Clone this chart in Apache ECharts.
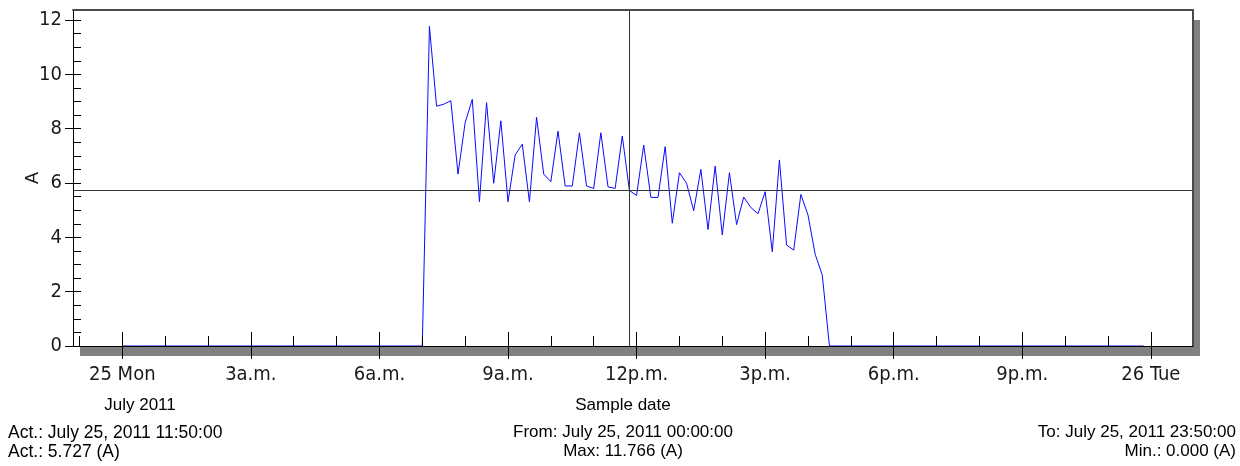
<!DOCTYPE html>
<html>
<head>
<meta charset="utf-8">
<script src="https://cdn.jsdelivr.net/npm/echarts@6/dist/echarts.min.js"></script>
<style>
html,body{margin:0;padding:0;background:#fff;}
#chart{width:1240px;height:466px;}
</style>
</head>
<body>
<div id="chart"></div>
<script>
// ---- data (minutes since 2011-07-25 00:00, 10-minute samples) ----
const sampleStepMinutes = 10;
const currentValues = [
  0,0,0,0,0,0,0,0,0,0,0,0,          // 00:00 - 01:50
  0,0,0,0,0,0,0,0,0,0,0,0,          // 02:00 - 03:50
  0,0,0,0,0,0,0,0,0,0,0,0,          // 04:00 - 05:50
  0,0,0,0,0,0,                      // 06:00 - 06:50
  0, 11.766, 8.83, 8.90, 9.03, 6.33, // 07:00 - 07:50
  8.22, 9.08, 5.31, 8.96, 5.99, 8.29, // 08:00 - 08:50
  5.31, 7.03, 7.43, 5.31, 8.42, 6.33, // 09:00 - 09:50
  6.05, 7.91, 5.89, 5.89, 7.85, 5.89, // 10:00 - 10:50
  5.80, 7.85, 5.86, 5.80, 7.73, 5.727,// 11:00 - 11:50
  5.54, 7.40, 5.47, 5.47, 7.34, 4.52, // 12:00 - 12:50
  6.38, 5.99, 4.98, 6.50, 4.29, 6.62, // 13:00 - 13:50
  4.09, 6.38, 4.47, 5.48, 5.10, 4.87, // 14:00 - 14:50
  5.68, 3.47, 6.85, 3.72, 3.53, 5.58, // 15:00 - 15:50
  4.82, 3.38, 2.61, 0, 0, 0,          // 16:00 - 16:50
  0,0,0,0,0,0,0,0,0,0,0,0,          // 17:00 - 18:50
  0,0,0,0,0,0,0,0,0,0,0,0,          // 19:00 - 20:50
  0,0,0,0,0,0,0,0,0,0,0,0,          // 21:00 - 22:50
  0,0,0,0,0,0                       // 23:00 - 23:50
];
const xMinMinutes = -69;
const xMaxMinutes = 1499;
const majorTickMinutes = [0, 180, 360, 540, 720, 900, 1080, 1260, 1440];
const majorTickLabels = ['25 Mon', '3a.m.', '6a.m.', '9a.m.', '12p.m.', '3p.m.', '6p.m.', '9p.m.', '26 Tue'];
const hourTickMinutes = [-60,0,60,120,180,240,300,360,420,480,540,600,660,720,780,840,900,960,1020,1080,1140,1200,1260,1320,1380,1440];
const yMin = 0;
const yMax = 12.37;
const yMajorTicks = [0, 2, 4, 6, 8, 10, 12];
const yMinorTicks = [0,0.5,1,1.5,2,2.5,3,3.5,4,4.5,5,5.5,6,6.5,7,7.5,8,8.5,9,9.5,10,10.5,11,11.5,12];
const cursorMinutes = 710;   // 11:50
const cursorValue = 5.727;
const yAxisName = 'A';
const xAxisTitle = 'Sample date';
const monthLabel = 'July 2011';
const infoLeft = ['Act.: July 25, 2011 11:50:00', 'Act.: 5.727 (A)'];
const infoCenter = ['From: July 25, 2011 00:00:00', 'Max: 11.766 (A)'];
const infoRight = ['To: July 25, 2011 23:50:00', 'Min.: 0.000 (A)'];

const seriesData = currentValues.map((v, i) => [i * sampleStepMinutes, v]);

const narrow = "'Liberation Sans Narrow', 'Arial Narrow', 'DejaVu Sans Condensed', sans-serif";
const sans = "'Liberation Sans', Arial, sans-serif";

const chart = echarts.init(document.getElementById('chart'), null, {renderer: 'canvas'});

const baseX = {
  type: 'value', min: xMinMinutes, max: xMaxMinutes, position: 'bottom', offset: 0,
  splitLine: {show: false}, z: 5
};
const baseY = {
  type: 'value', min: yMin, max: yMax, position: 'left', offset: 0,
  splitLine: {show: false}, z: 5
};
const frameColor = '#4a4a4a';

chart.setOption({
  animation: false,
  backgroundColor: '#ffffff',
  grid: {
    left: 73, right: 47, top: 10, bottom: 120,
    show: true, backgroundColor: '#ffffff',
    borderWidth: 0, borderColor: 'transparent',
    shadowColor: '#808080', shadowBlur: 0, shadowOffsetX: 7, shadowOffsetY: 10
  },
  xAxis: [
    Object.assign({}, baseX, {
      axisLine: {show: true, onZero: false, lineStyle: {color: '#000', width: 1}},
      axisTick: {show: true, inside: false, length: 13, customValues: majorTickMinutes, lineStyle: {color: '#000'}},
      axisLabel: {
        show: true, customValues: majorTickMinutes, margin: 19,
        fontFamily: narrow, fontSize: 20, color: '#1a1a1a',
        formatter: function (v) { const i = majorTickMinutes.indexOf(v); return i >= 0 ? majorTickLabels[i] : ''; }
      }
    }),
    Object.assign({}, baseX, {
      axisLine: {show: false, onZero: false},
      axisTick: {show: true, inside: true, length: 10, customValues: hourTickMinutes, lineStyle: {color: '#000'}},
      axisLabel: {show: false}
    }),
    Object.assign({}, baseX, {
      axisLine: {show: false, onZero: false},
      axisTick: {show: true, inside: true, length: 14, customValues: majorTickMinutes, lineStyle: {color: '#000'}},
      axisLabel: {show: false}
    }),
    Object.assign({}, baseX, {
      position: 'top',
      axisLine: {show: true, onZero: false, lineStyle: {color: frameColor, width: 2}},
      axisTick: {show: false},
      axisLabel: {show: false}
    })
  ],
  yAxis: [
    Object.assign({}, baseY, {
      name: yAxisName, nameLocation: 'middle', nameGap: 31, nameMoveOverlap: false,
      nameTextStyle: {fontFamily: sans, fontSize: 18, color: '#1a1a1a'},
      axisLine: {show: true, onZero: false, lineStyle: {color: '#000', width: 1}},
      axisTick: {show: true, inside: false, length: 8, customValues: yMajorTicks, lineStyle: {color: '#000'}},
      axisLabel: {show: true, customValues: yMajorTicks, margin: 11, fontFamily: narrow, fontSize: 20, color: '#1a1a1a'}
    }),
    Object.assign({}, baseY, {
      axisLine: {show: false, onZero: false},
      axisTick: {show: true, inside: true, length: 8, customValues: yMinorTicks, lineStyle: {color: '#000'}},
      axisLabel: {show: false}
    }),
    Object.assign({}, baseY, {
      position: 'right',
      axisLine: {show: true, onZero: false, lineStyle: {color: frameColor, width: 2}},
      axisTick: {show: false},
      axisLabel: {show: false}
    })
  ],
  series: [{
    type: 'line',
    xAxisIndex: 0, yAxisIndex: 0,
    data: seriesData,
    showSymbol: false,
    symbol: 'none',
    z: 2,
    lineStyle: {color: '#0a0aff', width: 1},
    markLine: {
      silent: true, symbol: 'none', animation: false,
      label: {show: false},
      lineStyle: {color: '#333333', width: 1, type: 'solid'},
      data: [{xAxis: cursorMinutes}, {yAxis: cursorValue}]
    }
  }],
  graphic: [
    {type: 'text', x: 140, y: 397, style: {text: monthLabel, font: '17px ' + sans, fill: '#000', textAlign: 'center'}},
    {type: 'text', x: 623, y: 397, style: {text: xAxisTitle, font: '17px ' + sans, fill: '#000', textAlign: 'center'}},
    {type: 'text', x: 8, y: 424, style: {text: infoLeft[0], font: '17.5px ' + sans, fill: '#000'}},
    {type: 'text', x: 8, y: 443, style: {text: infoLeft[1], font: '17.5px ' + sans, fill: '#000'}},
    {type: 'text', x: 623, y: 424, style: {text: infoCenter[0], font: '17px ' + sans, fill: '#000', textAlign: 'center'}},
    {type: 'text', x: 623, y: 443, style: {text: infoCenter[1], font: '17px ' + sans, fill: '#000', textAlign: 'center'}},
    {type: 'text', x: 1236, y: 424, style: {text: infoRight[0], font: '17px ' + sans, fill: '#000', textAlign: 'right'}},
    {type: 'text', x: 1236, y: 443, style: {text: infoRight[1], font: '17px ' + sans, fill: '#000', textAlign: 'right'}}
  ]
});
</script>
</body>
</html>
